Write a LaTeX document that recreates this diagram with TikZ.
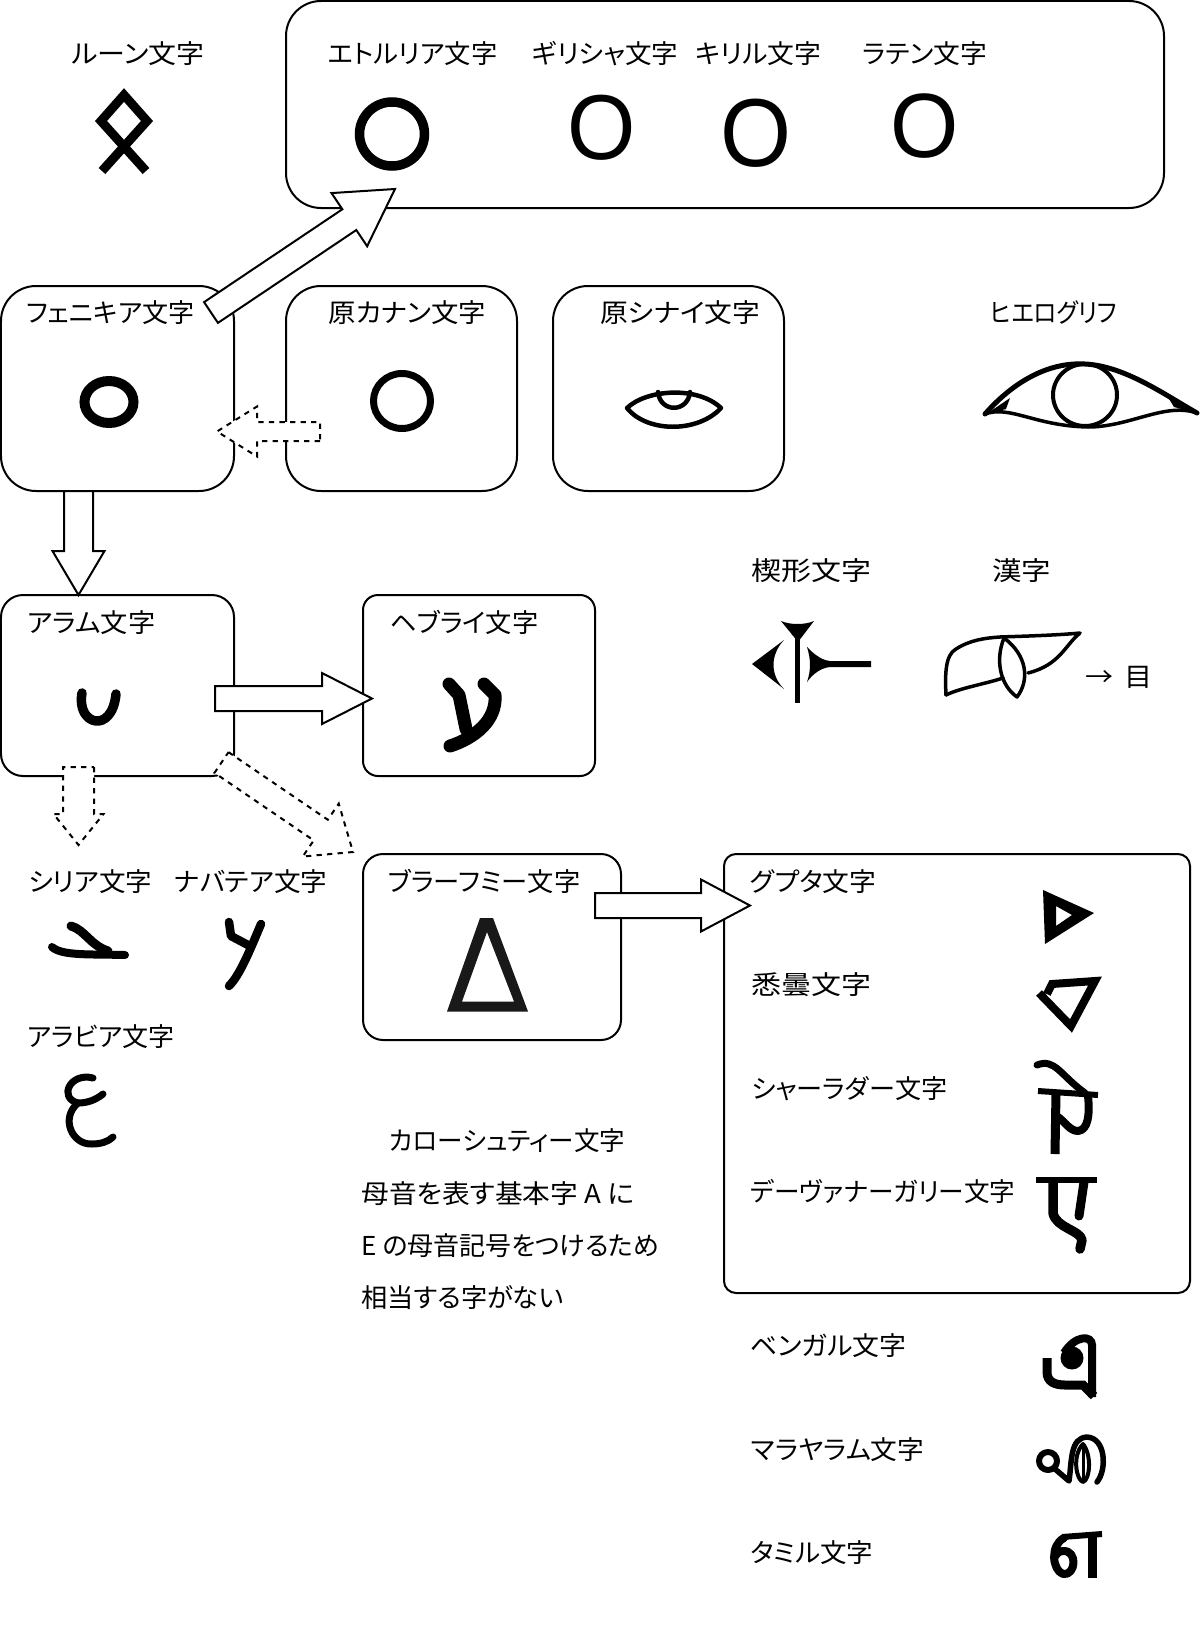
\documentclass[tikz,border=0pt]{standalone}
\usepackage{fontspec}
\setmainfont[RawFeature=+palt]{Noto Sans CJK JP}
\newfontfamily\letterfont{Liberation Sans}
\usetikzlibrary{calc}
\newdimen\pxu
\pxu=0.02cm
% text squeezed to the width it has in the picture
\newcommand{\fitw}[2]{\resizebox{#1\pxu}{\height}{#2}}
% block arrow: from, to, body width, head width, head length
\newcommand{\blockarrow}[6][]{%
    \coordinate (neck) at ($(#3)!#6*\pxu!(#2)$);
    \draw[arrowline, #1] ($(#2)!#4*0.5*\pxu!90:(#3)$) -- ($(neck)!#4*0.5*\pxu!90:(#3)$)
        -- ($(neck)!#5*0.5*\pxu!90:(#3)$) -- (#3) -- ($(neck)!#5*0.5*\pxu!-90:(#3)$)
        -- ($(neck)!#4*0.5*\pxu!-90:(#3)$) -- ($(#2)!#4*0.5*\pxu!-90:(#3)$) -- cycle;
}
\tikzset{
    scriptbox/.style={draw=black, line width=0.04cm, rounded corners=#1*\pxu, anchor=north west, inner sep=0pt},
    lab/.style={anchor=west, inner sep=0pt, text height=0.46cm, text depth=0.06cm, font=\fontsize{14.8}{16}\selectfont},
    bigletter/.style={inner sep=0pt, font=\letterfont\fontsize{50}{50}\selectfont},
    arrowline/.style={draw=black, fill=white, line width=0.04cm, miter limit=10},
    ink/.style={draw=black, line width=#1*\pxu, line cap=round, line join=round},
    hardink/.style={draw=black, line width=#1*\pxu, line cap=butt, line join=miter},
}
\begin{document}
\begin{tikzpicture}[x=0.02cm, y=-0.02cm]
    \useasboundingbox (0,0) rectangle (1200,1629);

    % Kaesten
    \node[scriptbox=35, minimum width=878*\pxu, minimum height=207*\pxu] (latinbox) at (285,0) {};
    \node[scriptbox=35, minimum width=233*\pxu, minimum height=205*\pxu] (phoenbox) at (0,285) {};
    \node[scriptbox=35, minimum width=231*\pxu, minimum height=205*\pxu] (canaanbox) at (285,285) {};
    \node[scriptbox=35, minimum width=231*\pxu, minimum height=205*\pxu] (sinaibox) at (552,285) {};
    \node[scriptbox=22, minimum width=233*\pxu, minimum height=181*\pxu] (arambox) at (0,594) {};
    \node[scriptbox=15, minimum width=232*\pxu, minimum height=181*\pxu] (hebrewbox) at (362,594) {};
    \node[scriptbox=20, minimum width=258*\pxu, minimum height=186*\pxu] (brahmibox) at (362,853) {};
    \node[scriptbox=12, minimum width=466*\pxu, minimum height=439*\pxu] (guptabox) at (723,853) {};

    % Beschriftungen
    \node[lab] (runelab) at (71,54) {\fitw{133}{ルーン文字}};
    \node[lab] (etrusclab) at (328,54) {\fitw{169}{エトルリア文字}};
    \node[lab] (greeklab) at (532,54) {\fitw{146}{ギリシャ文字}};
    \node[lab] (cyrilllab) at (695,54) {\fitw{126}{キリル文字}};
    \node[lab] (latinlab) at (862,54) {\fitw{125}{ラテン文字}};
    \node[lab] (phoenlab) at (26,312) {\fitw{168}{フェニキア文字}};
    \node[lab] (canaanlab) at (328,312) {\fitw{158}{原カナン文字}};
    \node[lab] (sinailab) at (600,312) {\fitw{160}{原シナイ文字}};
    \node[lab] (hierolab) at (990,312) {\fitw{127}{ヒエログリフ}};
    \node[lab] (cuneilab) at (751,570) {\fitw{120}{楔形文字}};
    \node[lab] (kanjilab) at (992,570) {\fitw{59}{漢字}};
    \node[lab] (eyelab) at (1085,676) {\fitw{67}{→ \,目}};
    \node[lab] (aramlab) at (27,622) {\fitw{128}{アラム文字}};
    \node[lab] (hebrewlab) at (390,622) {\fitw{148}{ヘブライ文字}};
    \node[lab] (syriaclab) at (28,881) {\fitw{124}{シリア文字}};
    \node[lab] (nabatlab) at (174,881) {\fitw{153}{ナバテア文字}};
    \node[lab] (brahmilab) at (388,881) {\fitw{192}{ブラーフミー文字}};
    \node[lab] (guptalab) at (750,881) {\fitw{126}{グプタ文字}};
    \node[lab] (arabiclab) at (27,1036) {\fitw{147}{アラビア文字}};
    \node[lab] (siddhamlab) at (751,984) {\fitw{120}{悉曇文字}};
    \node[lab] (sharadalab) at (751,1088) {\fitw{196}{シャーラダー文字}};
    \node[lab] (devalab) at (750,1191) {\fitw{265}{デーヴァナーガリー文字}};
    \node[lab] (bengalilab) at (750,1345) {\fitw{156}{ベンガル文字}};
    \node[lab] (malaylab) at (751,1449) {\fitw{173}{マラヤラム文字}};
    \node[lab] (tamillab) at (750,1552) {\fitw{123}{タミル文字}};
    \node[lab] (kharolab) at (389,1140) {\fitw{236}{カローシュティー文字}};
    \node[lab] (noteone) at (361,1193) {\fitw{273}{母音を表す基本字 A に}};
    \node[lab] (notetwo) at (361,1245) {\fitw{298}{E の母音記号をつけるため}};
    \node[lab] (notethree) at (361,1297) {\fitw{202}{相当する字がない}};

    % Zeichen: O-Formen
    \draw[hardink=9.5] (392,134) ellipse [x radius=32.5, y radius=32];
    \node[bigletter] (greeko) at (601.5,128) {\scalebox{1}[1.05]{Ο}};
    \node[bigletter] (cyrillo) at (756,133) {\scalebox{1.04}[1.1]{О}};
    \node[bigletter] (latino) at (924.5,126) {\scalebox{1}[1.04]{O}};
    \draw[hardink=10] (109,402) ellipse [x radius=24.5, y radius=21];
    \draw[hardink=7] (402,401) ellipse [x radius=28.5, y radius=27.5];

    % Rune
    \draw[hardink=9] (102,171) -- (147,121) -- (124,95) -- (101,121) -- (146,171);

    % Augen
    \draw[ink=4.5] (627,408) .. controls (647,389) and (698,386) .. (721,408) .. controls (698,433) and (647,433) .. (627,408) -- cycle;
    \draw[ink=4.5] (658,392) .. controls (660,413) and (688,413) .. (690,392);
    \draw[ink=5] (985,414) .. controls (1015,380) and (1050,362) .. (1085,364) .. controls (1125,366) and (1165,395) .. (1197,413);
    \draw[ink=3.5] (985,414) .. controls (1010,405) and (1035,426) .. (1088,427) .. controls (1130,427) and (1165,402) .. (1197,413);
    \draw[ink=4] (1085,395) ellipse [x radius=32, y radius=31];
    \fill (985,415) -- (1010,398) -- (1006,409) -- cycle;
    \fill (1197,413) -- (1166,394) -- (1174,407) -- cycle;

    % Keilschrift
    \draw[hardink=5] (797,630) -- (797,703);
    \fill (781,621) .. controls (790,625) and (805,625) .. (814,621) -- (798,642) -- cycle;
    \fill (752,664) -- (784,640) .. controls (770,655) and (770,675) .. (784,689) -- cycle;
    \fill (807,647) .. controls (812,652) and (820,660) .. (830,661) -- (871,661) -- (871,667) -- (830,667)
        .. controls (820,668) and (812,675) .. (807,682) .. controls (811,670) and (811,660) .. (807,647) -- cycle;

    % Leber-Auge
    \draw[ink=3.5] (946,695) .. controls (945,675) and (945,655) .. (956,649) .. controls (970,640) and (985,638) .. (1000,637)
        .. controls (1030,636) and (1060,635) .. (1080,633) .. controls (1065,645) and (1060,665) .. (1028,673);
    \draw[ink=3.5] (946,695) .. controls (960,688) and (985,684) .. (1003,678);
    \draw[ink=3.5] (1004,638) .. controls (995,660) and (1000,685) .. (1017,697) .. controls (1030,680) and (1027,655) .. (1004,638) -- cycle;

    % Aramaeisch, Hebraeisch
    \draw[ink=9.5] (82,693) .. controls (76,725) and (112,735) .. (116,694);
    \draw[ink=13] (449,684) -- (459,695) -- (466,729);
    \draw[ink=13] (484,684) -- (495,695) .. controls (497,720) and (475,738) .. (450,746);

    % Syrisch, Nabataeisch, Arabisch
    \draw[ink=8] (52,947) .. controls (62,956) and (90,954) .. (125,955);
    \draw[ink=9] (71,926) .. controls (85,930) and (90,945) .. (108,951);
    \draw[ink=8.5] (229,922) -- (231,936) -- (248,945);
    \draw[ink=8.5] (261,924) .. controls (250,950) and (240,975) .. (229,986);
    \draw[ink=7] (93,1078) .. controls (70,1072) and (58,1098) .. (78,1103) .. controls (90,1103) and (98,1098) .. (103,1094);
    \draw[ink=7] (78,1103) .. controls (60,1118) and (72,1145) .. (92,1144) .. controls (100,1144) and (108,1142) .. (113,1137);

    % Brahmi
    \fill[black!90, even odd rule] (480,918) -- (493,918) -- (528,1011.5) -- (447,1011.5) -- cycle
        (487,932) -- (462,1001.5) -- (514,1001.5) -- cycle;

    % Gupta bis Devanagari
    \fill[even odd rule] (1043,890) -- (1094,913) -- (1045,944) -- cycle (1056,906) -- (1072,915) -- (1056,926) -- cycle;
    \draw[hardink=8] (1039,993) -- (1071,1026) -- (1095,981) -- (1052,984) -- (1047,994);
    \draw[ink=7] (1037,1065) .. controls (1055,1058) and (1060,1075) .. (1085,1093);
    \draw[hardink=6] (1038,1091) -- (1098,1095);
    \draw[hardink=9] (1056,1092) -- (1055,1154);
    \draw[ink=8] (1088,1096) .. controls (1090,1115) and (1088,1130) .. (1078,1131) .. controls (1070,1131) and (1065,1122) .. (1058,1117);
    \draw[hardink=6] (1036,1180) -- (1097,1180);
    \draw[ink=9.5] (1053,1182) -- (1053,1213) .. controls (1056,1228) and (1080,1230) .. (1082,1240) -- (1080,1249);
    \draw[ink=9] (1084,1182) -- (1079,1216);

    % Bengali, Malayalam, Tamil
    \draw[hardink=9] (1047,1358) -- (1047,1372) .. controls (1047,1382) and (1055,1385) .. (1065,1385) -- (1083,1385) -- (1094,1396);
    \draw[hardink=8] (1092,1397) -- (1092,1345) .. controls (1092,1335) and (1075,1335) .. (1064,1353);
    \fill (1072,1358) circle [radius=11.5];
    \draw[ink=6] (1048,1461) circle [radius=9];
    \draw[ink=5.5] (1055,1469) -- (1069,1481) .. controls (1072,1460) and (1070,1438) .. (1087,1437)
        .. controls (1106,1438) and (1107,1470) .. (1097,1482);
    \draw[ink=4] (1083,1444) .. controls (1072,1455) and (1076,1480) .. (1083,1482) .. controls (1090,1480) and (1092,1455) .. (1083,1444) -- cycle;
    \draw[ink=3] (1083,1444) -- (1083,1482);
    \draw[hardink=9] (1092,1534) -- (1092,1578);
    \draw[hardink=6] (1062,1537) -- (1102,1534);
    \draw[ink=8] (1064,1538) .. controls (1050,1545) and (1052,1570) .. (1063,1574) .. controls (1076,1576) and (1078,1550) .. (1063,1551) .. controls (1058,1551) and (1056,1555) .. (1054,1558);

    % Blockpfeile
    \coordinate (phoenout) at (211,312.5);
    \coordinate (latinin) at (395,189);
    \coordinate (canaanout) at (320,431.5);
    \coordinate (phoenin) at (217,431.5);
    \coordinate (phoendown) at (78.5,491);
    \coordinate (aramin) at (78.5,595);
    \coordinate (aramout) at (215,698.5);
    \coordinate (hebrewin) at (372,698.5);
    \coordinate (aramdown) at (78.5,767);
    \coordinate (syriacin) at (78.5,845);
    \coordinate (aramdiag) at (221.5,762.5);
    \coordinate (brahmiin) at (353,852);
    \coordinate (brahmiout) at (595,905.5);
    \coordinate (guptain) at (750,905.5);

    \blockarrow{phoenout}{latinin}{25}{64}{55}
    \blockarrow[dashed]{canaanout}{phoenin}{19}{50}{40}
    \blockarrow{phoendown}{aramin}{29}{52}{44}
    \blockarrow{aramout}{hebrewin}{25}{51}{50}
    \blockarrow[dashed]{aramdown}{syriacin}{31}{50}{31}
    \blockarrow[dashed]{aramdiag}{brahmiin}{25}{64}{39}
    \blockarrow{brahmiout}{guptain}{25}{52}{49}
\end{tikzpicture}
\end{document}
